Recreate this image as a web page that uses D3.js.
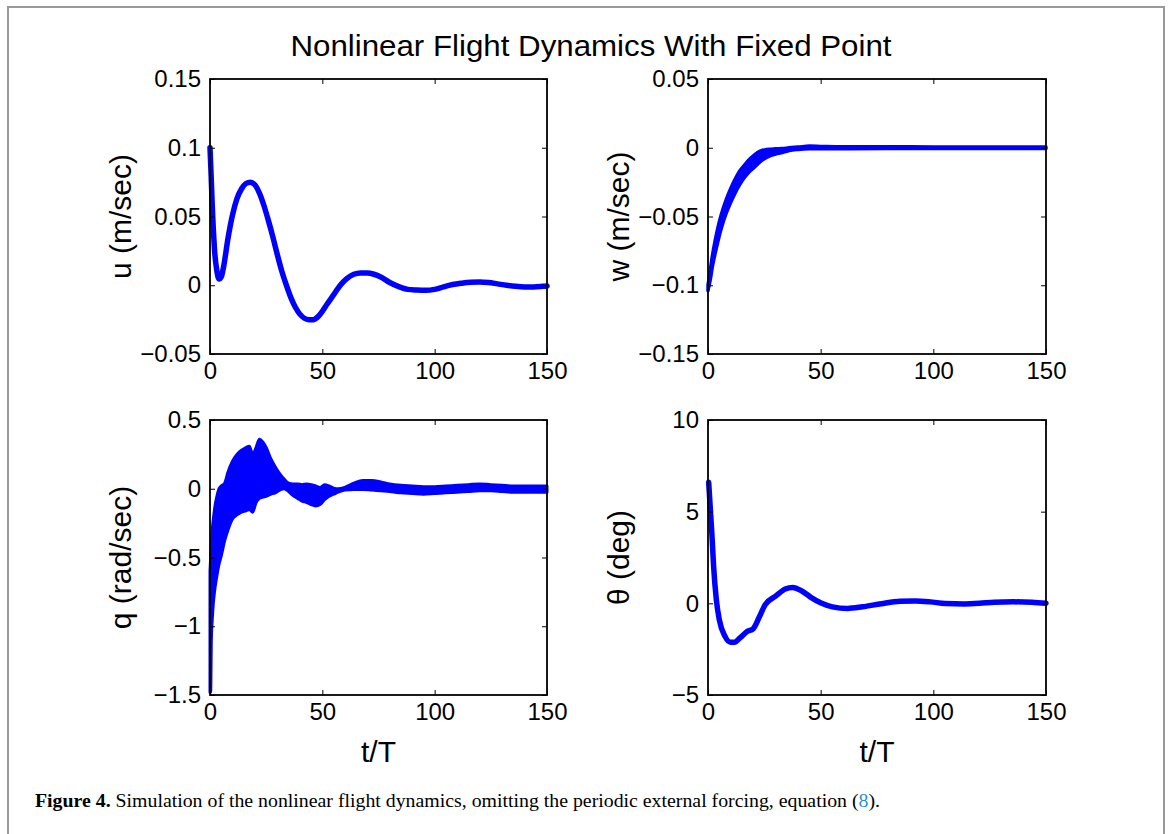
<!DOCTYPE html>
<html lang="en">
<head>
  <meta charset="UTF-8">
  <title>Nonlinear Flight Dynamics With Fixed Point</title>
  <style>
    html, body {
      margin: 0;
      overflow: hidden;
      width: 100%;
      height: 100%;
      background: #fff;
    }
    svg {
      position: absolute;
      top: 0;
      left: 0;
    }
    .tick text {
      font-family: "Liberation Sans", Arial, sans-serif;
      font-size: 24px;
      fill: #000;
    }
  </style>
</head>
<body>
  <svg width="1171" height="834"></svg>
</body>
<script src="https://d3js.org/d3.v7.min.js"></script>
<script type="text/javascript">
  // t/T samples
  const tU = [0, 0.5, 1, 1.5, 2, 3, 4, 5, 6, 8, 10, 12, 14, 16, 18, 20, 22, 24, 26, 28, 30, 32, 34, 36, 38, 40, 42, 44, 46, 48, 50, 52,
    55, 58, 61, 64, 67, 70, 73, 76, 80, 84, 88, 92, 96, 100, 104, 108, 112, 116, 120, 124, 128, 132, 136, 140, 144, 148, 150]
  const uVals = [0.1, 0.08, 0.058, 0.04, 0.026, 0.011, 0.0045, 0.006, 0.013,
    0.034, 0.051, 0.063, 0.070, 0.074, 0.075, 0.073, 0.067, 0.058, 0.047, 0.035, 0.022, 0.010, 0.000, -0.009, -0.016, -0.021, -0.024, -0.025, -0.025, -0.023, -0.019, -0.014,
    -0.007, 0.000, 0.005, 0.008, 0.009, 0.009, 0.008, 0.006,
    0.002, -0.001, -0.003, -0.0035, -0.0037, -0.003, -0.0012, 0.0005, 0.0015, 0.0022, 0.0024, 0.002, 0.001, 0.0, -0.0008, -0.0012, -0.0012, -0.0008, -0.0005]

  // w and q oscillate fast: keep lower / upper envelope of the band
  const tW = [0, 1, 2, 3, 4, 5, 6, 8, 10, 12, 14, 16, 18, 20, 22, 24, 26, 28, 30, 33, 36, 40, 45, 50, 60, 80, 100, 125, 150]
  const wLow = [-0.104, -0.096, -0.086, -0.078, -0.071, -0.064, -0.058,
    -0.048, -0.040, -0.033, -0.027, -0.022, -0.018, -0.015, -0.012, -0.009, -0.007, -0.0055, -0.0045,
    -0.0035, -0.002, -0.0012, -0.0008, -0.0008, -0.0007, -0.0006, -0.0006, -0.0006, -0.0006]
  const wHigh = [-0.100, -0.089, -0.078, -0.069, -0.061, -0.054, -0.048,
    -0.038, -0.030, -0.023, -0.017, -0.013, -0.009, -0.006, -0.0035, -0.002, -0.0012, -0.001, -0.0008,
    -0.0006, 0.0, 0.0005, 0.0012, 0.001, 0.0007, 0.0007, 0.0006, 0.0006, 0.0006]

  const tQ = [0, 0.3, 0.6, 1, 1.5, 2, 3, 4, 5, 6.5, 8, 10, 12, 14, 16, 17.5, 19, 20.5, 22, 23.5, 25,
    27, 29, 31, 33, 35, 37, 39, 41, 43, 45, 47, 49, 51, 53, 55, 57, 60, 64, 68, 72, 76, 80,
    85, 90, 95, 100, 105, 110, 115, 120, 125, 130, 135, 140, 145, 150]
  const qHigh = [-0.6, -0.5, -0.4, -0.3, -0.22, -0.15, -0.06, 0.0, 0.02, 0.04, 0.12, 0.2, 0.25, 0.28, 0.3,
    0.31, 0.25, 0.3, 0.36, 0.34, 0.3,
    0.22, 0.16, 0.11, 0.07, 0.04, 0.035, 0.035, 0.03, 0.035, 0.03, 0.02, 0.01, 0.03, 0.02, 0.005, 0.0,
    0.01, 0.04, 0.06, 0.06, 0.05, 0.035,
    0.025, 0.02, 0.015, 0.015, 0.02, 0.025, 0.03, 0.035, 0.03, 0.025, 0.02, 0.02, 0.02, 0.02]
  const qLow = [-1.48, -1.48, -1.1, -0.95, -0.83, -0.75, -0.64, -0.55, -0.49, -0.38, -0.3, -0.22, -0.19, -0.17, -0.16,
    -0.15, -0.17, -0.1, -0.07, -0.06, -0.055,
    -0.04, -0.03, -0.01, 0.0, -0.02, -0.05, -0.07, -0.09, -0.1, -0.115, -0.125, -0.115, -0.08, -0.055, -0.04, -0.025,
    -0.01, -0.005, -0.005, -0.01, -0.015, -0.02,
    -0.03, -0.035, -0.04, -0.035, -0.03, -0.025, -0.02, -0.015, -0.015, -0.02, -0.025, -0.025, -0.025, -0.025]

  const tTh = [0.3, 1, 1.7, 2.5, 3.7, 5, 7.5, 10, 11.7, 14.2, 17.6, 20, 22.6, 25.4, 30, 34.3, 37.6, 41.8,
    46, 50.2, 55.2, 61.9, 68.6, 77, 85.3, 92, 98.7, 105.4, 113.7, 120.4, 127, 135.5, 143.8, 150]
  const thVals = [6.6, 5.2, 3.83, 2.0, 0.2, -0.88, -1.79, -2.12, -2.12, -1.88, -1.52, -1.39, -0.79, -0.07, 0.39, 0.78, 0.87, 0.66,
    0.3, 0.02, -0.19, -0.28, -0.19, -0.02, 0.11, 0.13, 0.08, -0.01, -0.03, 0.0, 0.06, 0.08, 0.06, 0.0]

  const xTicks = [0, 50, 100, 150]
  const uTicks = [-0.05, 0, 0.05, 0.1, 0.15]
  const wTicks = [-0.15, -0.1, -0.05, 0, 0.05]
  const qTicks = [-1.5, -1, -0.5, 0, 0.5]
  const thTicks = [-5, 0, 5, 10]

  const title = 'Nonlinear Flight Dynamics With Fixed Point'
  const fmt = d => String(d).replace('-', '\u2212')

  const svg = d3.select('svg')
  const blue = '#0000ff'
  const sans = '"Liberation Sans", Arial, sans-serif'

  // page frame
  svg.append('rect')
    .attr('x', 8).attr('y', 7)
    .attr('width', 1156).attr('height', 900)
    .attr('fill', 'none')
    .attr('stroke', '#999')
    .attr('stroke-width', 2)

  svg.append('text')
    .attr('x', 591).attr('y', 56)
    .attr('text-anchor', 'middle')
    .attr('font-family', sans)
    .attr('font-size', 29)
    .attr('textLength', 601)
    .attr('lengthAdjust', 'spacingAndGlyphs')
    .text(title)

  const panels = [
    { x0: 210, y0: 79, w: 337, h: 275, dom: [-0.05, 0.15], ticks: uTicks, label: 'u (m/sec)', xlabel: false },
    { x0: 708, y0: 79, w: 338, h: 275, dom: [-0.15, 0.05], ticks: wTicks, label: 'w (m/sec)', xlabel: false },
    { x0: 210, y0: 420, w: 337, h: 275, dom: [-1.5, 0.5], ticks: qTicks, label: 'q (rad/sec)', xlabel: true },
    { x0: 708, y0: 420, w: 338, h: 275, dom: [-5, 10], ticks: thTicks, label: '\u03b8 (deg)', xlabel: true }
  ]

  panels.forEach(p => {
    p.x = d3.scaleLinear().domain([0, 150]).range([0, p.w])
    p.y = d3.scaleLinear().domain(p.dom).range([p.h, 0])
    p.g = svg.append('g').attr('transform', `translate(${p.x0},${p.y0})`)
  })

  function drawAxes(p) {
    const g = p.g
    g.append('g').attr('transform', `translate(0,${p.h})`)
      .call(d3.axisBottom(p.x).tickValues(xTicks).tickSize(-5).tickPadding(8).tickFormat(fmt))
    g.append('g')
      .call(d3.axisTop(p.x).tickValues(xTicks).tickSize(-5).tickFormat(''))
    g.append('g')
      .call(d3.axisLeft(p.y).tickValues(p.ticks).tickSize(-5).tickPadding(9).tickFormat(fmt))
    g.append('g').attr('transform', `translate(${p.w},0)`)
      .call(d3.axisRight(p.y).tickValues(p.ticks).tickSize(-5).tickFormat(''))
    g.selectAll('.domain').remove()
    g.selectAll('.tick line').attr('stroke', '#000').attr('stroke-width', 1)
    g.append('rect')
      .attr('width', p.w).attr('height', p.h)
      .attr('fill', 'none')
      .attr('stroke', '#000')
      .attr('stroke-width', 1.8)

    g.append('text')
      .attr('transform', `translate(-90,${p.h / 2}) rotate(-90)`)
      .attr('dy', '0.35em')
      .attr('text-anchor', 'middle')
      .attr('font-family', sans)
      .attr('font-size', 30)
      .text(p.label)

    if (p.xlabel) {
      g.append('text')
        .attr('x', p.w / 2).attr('y', p.h + 67)
        .attr('text-anchor', 'middle')
        .attr('font-family', sans)
        .attr('font-size', 30)
        .text('t/T')
    }
  }

  function drawLine(p, ts, vs) {
    const line = d3.line()
      .x((d, i) => p.x(ts[i]))
      .y(d => p.y(d))
      .curve(d3.curveMonotoneX)
    p.g.insert('path', 'rect')
      .attr('d', line(vs))
      .attr('fill', 'none')
      .attr('stroke', blue)
      .attr('stroke-width', 5.5)
      .attr('stroke-linejoin', 'round')
      .attr('stroke-linecap', 'round')
  }

  function drawBand(p, ts, lo, hi, sw) {
    const area = d3.area()
      .x((d, i) => p.x(ts[i]))
      .y0((d, i) => p.y(lo[i]))
      .y1((d, i) => p.y(hi[i]))
      .curve(d3.curveMonotoneX)
    p.g.insert('path', 'rect')
      .attr('d', area(ts))
      .attr('fill', blue)
      .attr('stroke', blue)
      .attr('stroke-width', sw)
      .attr('stroke-linejoin', 'round')
  }

  drawLine(panels[0], tU, uVals)
  drawBand(panels[1], tW, wLow, wHigh, 3.5)
  drawBand(panels[2], tQ, qLow, qHigh, 3)
  drawLine(panels[3], tTh, thVals)

  panels.forEach(drawAxes)

  // caption
  const cap = svg.append('text')
    .attr('x', 35).attr('y', 807)
    .attr('font-family', '"Liberation Serif", "Times New Roman", serif')
    .attr('font-size', 19.5)
    .attr('textLength', 845)
    .attr('lengthAdjust', 'spacingAndGlyphs')
  cap.append('tspan').attr('font-weight', 'bold').text('Figure 4.')
  cap.append('tspan').text(' Simulation of the nonlinear flight dynamics, omitting the periodic external forcing, equation (')
  cap.append('tspan').attr('fill', '#2a8fd0').text('8')
  cap.append('tspan').text(').')
</script>
</html>
